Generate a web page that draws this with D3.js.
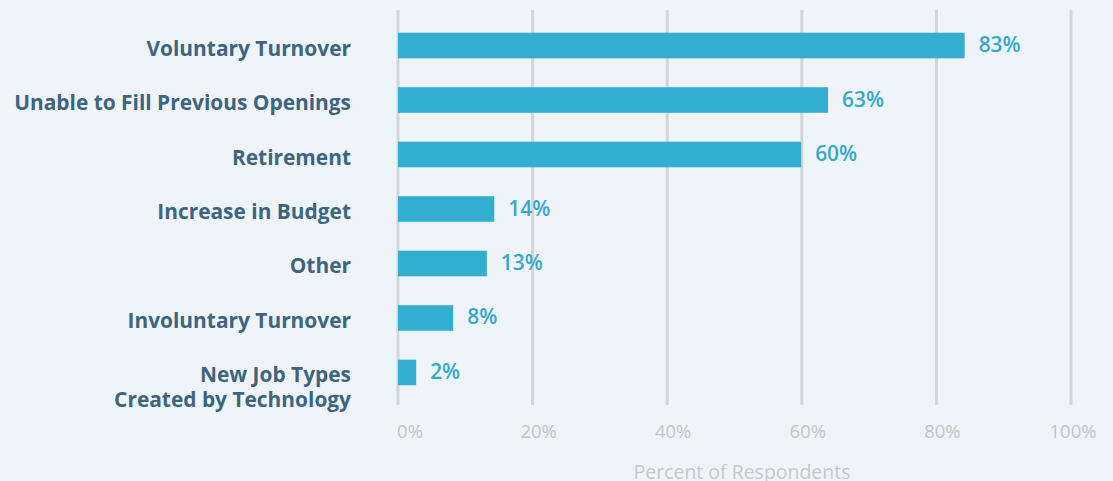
<!DOCTYPE html>
<html><head><meta charset="utf-8">
<script src="https://cdn.jsdelivr.net/npm/d3@7"></script>
<style>
html,body{margin:0;padding:0;background:#eff4f8;}
svg{display:block;font-family:"Open Sans",Lato,sans-serif;}
</style></head><body>
<svg id="chart" width="1113" height="481"></svg>
<script>
const categories = ["Voluntary Turnover","Unable to Fill Previous Openings","Retirement","Increase in Budget","Other","Involuntary Turnover","New Job Types\nCreated by Technology"];
const valueLabels = ["83%","63%","60%","14%","13%","8%","2%"];
const barValues = [84.2,63.9,59.9,14.3,13.2,8.2,2.7];
const tickValues = [0,20,40,60,80,100];
const tickLabels = ["0%","20%","40%","60%","80%","100%"];
const axisTitle = "Percent of Respondents";

const svg = d3.select("#chart");
const x = d3.scaleLinear().domain([0,100]).range([398,1071]);
const y = d3.scaleBand().domain(categories).range([18,400]).paddingInner(0.53).paddingOuter(0.27);

// fit font size so a given text reaches a target width
function fit(sel, target, base){
  sel.attr("font-size", base);
  let w = 0; sel.each(function(){ w = Math.max(w, this.getComputedTextLength()); });
  sel.attr("font-size", base*target/w);
}

// gridlines
svg.append("g").selectAll("line").data(tickValues).join("line")
  .attr("x1",d=>x(d)).attr("x2",d=>x(d)).attr("y1",10).attr("y2",405)
  .attr("stroke","#d3d5da").attr("stroke-width",3);

// tick labels
const tl = svg.append("g").selectAll("text").data(tickValues).join("text")
  .attr("x",(d,i)=>x(d)+(i===0?12:(i===tickValues.length-1?2:6)))
  .attr("y",438).attr("text-anchor","middle")
  .attr("fill","#c3c5c8")
  .text((d,i)=>tickLabels[i]);
fit(tl.filter((d,i)=>i===tickValues.length-1), 47, 17);
tl.attr("font-size", tl.filter((d,i)=>i===tickValues.length-1).attr("font-size"));

const at = svg.append("text").attr("x",742).attr("y",479).attr("text-anchor","middle")
  .attr("fill","#c6c8cb").text(axisTitle);
fit(at, 217, 18);

// bars
svg.append("g").selectAll("rect").data(barValues).join("rect")
  .attr("x",x(0)).attr("y",(d,i)=>y(categories[i]))
  .attr("width",d=>x(d)-x(0)).attr("height",y.bandwidth())
  .attr("fill","#33aed1");

// value labels
const vl = svg.append("g").selectAll("text").data(barValues).join("text")
  .attr("x",d=>x(d)+14).attr("y",(d,i)=>y(categories[i])+y.bandwidth()/2+6.5)
  .attr("fill","#35a9cc").attr("font-weight",600)
  .text((d,i)=>valueLabels[i]);
const vl0 = vl.filter((d,i)=>i===0);
fit(vl0, 42, 19);
vl.attr("font-size", vl0.attr("font-size"));

// category labels
const cl = svg.append("g").selectAll("text").data(categories).join("text")
  .attr("text-anchor","end").attr("x",351)
  .attr("fill","#3c6580").attr("font-weight",700);
cl.each(function(d,i){
  const lines = d.split("\n");
  const cy = y(d)+y.bandwidth()/2 + 10;
  d3.select(this).selectAll("tspan").data(lines).join("tspan")
    .attr("x",351).attr("y",(l,j)=>cy + j*25)
    .text(l=>l);
});
const cl1 = cl.filter((d,i)=>i===1);
fit(cl1, 337, 19);
cl.attr("font-size", cl1.attr("font-size"));
</script>
</body></html>
